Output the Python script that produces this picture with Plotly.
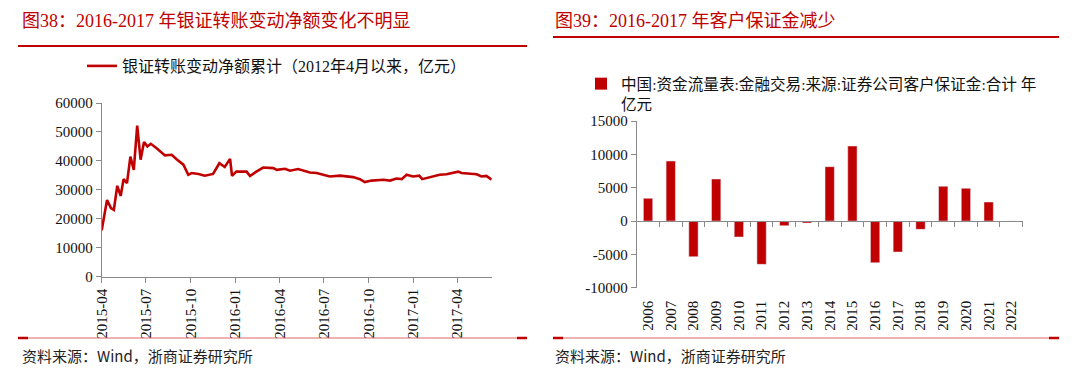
import plotly.graph_objects as go

W, H = 1080, 376

# ---------------- data: left chart ----------------
line_dates = [
    "2015-04-01", "2015-04-12", "2015-04-20", "2015-04-26", "2015-05-03", "2015-05-10",
    "2015-05-16", "2015-05-23", "2015-05-30", "2015-06-06", "2015-06-13", "2015-06-20",
    "2015-06-27", "2015-07-04", "2015-07-11", "2015-07-23", "2015-08-09", "2015-08-23",
    "2015-09-02", "2015-09-16", "2015-09-26", "2015-10-03", "2015-10-17", "2015-10-30",
    "2015-11-16", "2015-11-29", "2015-12-10", "2015-12-21", "2015-12-25", "2016-01-03",
    "2016-01-24", "2016-01-31", "2016-02-13", "2016-02-27", "2016-03-19", "2016-03-26",
    "2016-04-12", "2016-04-22", "2016-05-09", "2016-06-02", "2016-06-16", "2016-07-13",
    "2016-08-03", "2016-08-30", "2016-09-13", "2016-09-23", "2016-10-07", "2016-10-31",
    "2016-11-14", "2016-11-27", "2016-12-08", "2016-12-18", "2016-12-31", "2017-01-13",
    "2017-01-19", "2017-02-04", "2017-02-24", "2017-03-10", "2017-03-24", "2017-04-03",
    "2017-04-10", "2017-04-27", "2017-05-11", "2017-05-21", "2017-05-31", "2017-06-11",
]
line_values = [
    16000, 26500, 23700, 23100, 31400, 27900,
    33700, 32300, 41500, 36900, 52200, 40400,
    46500, 45000, 45900, 44400, 41900, 42100,
    40600, 38700, 35200, 35800, 35500, 34900,
    35500, 39200, 37900, 40700, 34800, 36300,
    36300, 34800, 36300, 37700, 37500, 36900,
    37300, 36600, 37200, 36000, 35800, 34600,
    34900, 34400, 33700, 32700, 33200, 33500,
    33200, 33900, 33700, 35200, 34600, 34900,
    33700, 34400, 35200, 35400, 35800, 36300,
    35800, 35500, 35400, 34600, 34800, 33500,
]
line_name = "银证转账变动净额累计（2012年4月以来，亿元）"
left_xticks = ["2015-04-01", "2015-07-01", "2015-10-01", "2016-01-01", "2016-04-01",
               "2016-07-01", "2016-10-01", "2017-01-01", "2017-04-01"]
left_xticklabels = ["2015-04", "2015-07", "2015-10", "2016-01", "2016-04",
                    "2016-07", "2016-10", "2017-01", "2017-04"]
left_yticks = [0, 10000, 20000, 30000, 40000, 50000, 60000]
left_yticklabels = ["0", "10000", "20000", "30000", "40000", "50000", "60000"]

# ---------------- data: right chart ----------------
years = ["2006", "2007", "2008", "2009", "2010", "2011", "2012", "2013", "2014",
         "2015", "2016", "2017", "2018", "2019", "2020", "2021", "2022"]
margin_change = [3400, 9000, -5350, 6300, -2400, -6500, -700, -300, 8150,
                 11250, -6250, -4650, -1250, 5200, 4900, 2850, 0]
bar_name = "中国:资金流量表:金融交易:来源:证券公司客户保证金:合计 年<br>亿元"
right_yticks = [-10000, -5000, 0, 5000, 10000, 15000]
right_yticklabels = ["-10000", "-5000", "0", "5000", "10000", "15000"]

title_left = "图38：2016-2017 年银证转账变动净额变化不明显"
title_right = "图39：2016-2017 年客户保证金减少"
source_text = "资料来源：Wind，浙商证券研究所"

# ---------------- styling ----------------
RED = "#C00000"
AXIS = "#898989"
SERIF = "Liberation Serif, Noto Sans CJK SC"
CJK = "Noto Sans CJK SC"

def px_x(x):
    return x / W

def px_y(y):
    return 1 - y / H

fig = go.Figure()

fig.add_trace(go.Scatter(
    x=line_dates, y=line_values, mode="lines", name=line_name,
    line=dict(color=RED, width=2.6), xaxis="x", yaxis="y", legend="legend",
))

fig.add_trace(go.Bar(
    x=years, y=margin_change, name=bar_name, marker=dict(color=RED, line=dict(width=0)),
    xaxis="x2", yaxis="y2", legend="legend2",
))
# transparent twin trace so the zero-line axis (with boundary ticks) is drawn
fig.add_trace(go.Bar(
    x=years, y=margin_change, marker=dict(color="rgba(0,0,0,0)"), showlegend=False,
    hoverinfo="skip", xaxis="x3", yaxis="y2",
))

y2_range = [-10000, 15000]
y2_dom = [px_y(287.7), px_y(121)]
zero_pos = y2_dom[0] + (0 - y2_range[0]) / (y2_range[1] - y2_range[0]) * (y2_dom[1] - y2_dom[0])

tickfont = dict(family=SERIF, size=15, color="#111111")

fig.update_layout(
    width=W, height=H,
    margin=dict(l=0, r=0, t=0, b=0, autoexpand=False),
    paper_bgcolor="white", plot_bgcolor="white",
    bargap=0.59,
    xaxis=dict(
        domain=[px_x(101.7), px_x(491.7)], type="date",
        range=["2015-04-01", "2017-06-11"],
        tickvals=left_xticks, ticktext=left_xticklabels, tickangle=-90,
        ticks="outside", ticklen=5, tickcolor=AXIS, showline=True, linecolor=AXIS,
        linewidth=1, showgrid=False, zeroline=False, tickfont=tickfont, anchor="y",
        automargin=False,
    ),
    yaxis=dict(
        domain=[px_y(276.7), px_y(103)], range=[0, 60000],
        tickvals=left_yticks, ticktext=left_yticklabels,
        ticks="outside", ticklen=5, tickcolor=AXIS, showline=True, linecolor=AXIS,
        linewidth=1, showgrid=False, zeroline=False, tickfont=tickfont, anchor="x",
        automargin=False,
    ),
    xaxis2=dict(
        domain=[px_x(636.7), px_x(1022.7)], type="category",
        categoryorder="array", categoryarray=years, range=[-0.5, 16.5],
        tickangle=-90, ticks="outside", ticklen=6, tickcolor="rgba(0,0,0,0)",
        showline=False, showgrid=False, zeroline=False, tickfont=tickfont, anchor="y2",
        automargin=False,
    ),
    xaxis3=dict(
        overlaying="x2", anchor="free", position=zero_pos, side="bottom",
        type="category", categoryorder="array", categoryarray=years, range=[-0.5, 16.5],
        tickson="boundaries", ticks="outside", ticklen=5, tickcolor=AXIS,
        showline=True, linecolor=AXIS, linewidth=1, showticklabels=False,
        showgrid=False, zeroline=False, automargin=False,
    ),
    yaxis2=dict(
        domain=y2_dom, range=y2_range,
        tickvals=right_yticks, ticktext=right_yticklabels,
        ticks="outside", ticklen=5, tickcolor=AXIS, showline=True, linecolor=AXIS,
        linewidth=1, showgrid=False, zeroline=False, tickfont=tickfont, anchor="x2",
        automargin=False,
    ),
    legend=dict(
        x=px_x(82), y=px_y(66), xanchor="left", yanchor="middle",
        bgcolor="rgba(0,0,0,0)", font=dict(family=SERIF, size=16, color="#111111"),
    ),
    legend2=dict(
        x=px_x(581), y=px_y(67), xanchor="left", yanchor="top", valign="top",
        bgcolor="rgba(0,0,0,0)", font=dict(family=SERIF, size=15.6, color="#111111"),
    ),
    showlegend=True,
)

# titles and sources
for x0, t in [(20, title_left), (553, title_right)]:
    fig.add_annotation(x=px_x(x0), y=px_y(21), xref="paper", yref="paper", text=t,
                       showarrow=False, xanchor="left", yanchor="middle",
                       font=dict(family=SERIF, size=18, color=RED))
for x0 in [20, 553]:
    fig.add_annotation(x=px_x(x0), y=px_y(355), xref="paper", yref="paper", text=source_text,
                       showarrow=False, xanchor="left", yanchor="middle",
                       font=dict(family=CJK, size=15, color="#222222"))

# decorative rules
shapes = []
for (xa, xb, ytop) in [(18, 527, 46), (553, 1059, 37)]:
    shapes.append(dict(type="line", xref="paper", yref="paper",
                       x0=px_x(xa), x1=px_x(xb), y0=px_y(ytop), y1=px_y(ytop),
                       line=dict(color=RED, width=2)))
for (xa, xb) in [(18, 527), (553, 1059)]:
    yb = 338
    shapes.append(dict(type="line", xref="paper", yref="paper",
                       x0=px_x(xa), x1=px_x(xb), y0=px_y(yb), y1=px_y(yb),
                       line=dict(color="#E06666", width=1)))
    for (ca, cb) in [(xa, xa + 10), (xb - 10, xb)]:
        shapes.append(dict(type="line", xref="paper", yref="paper",
                           x0=px_x(ca), x1=px_x(cb), y0=px_y(yb), y1=px_y(yb),
                           line=dict(color=RED, width=2.5)))
fig.update_layout(shapes=shapes)

fig.write_html(
    "out.html",
    config={"displayModeBar": False},
    post_script="document.body.style.margin='0';document.body.style.padding='0';",
)
